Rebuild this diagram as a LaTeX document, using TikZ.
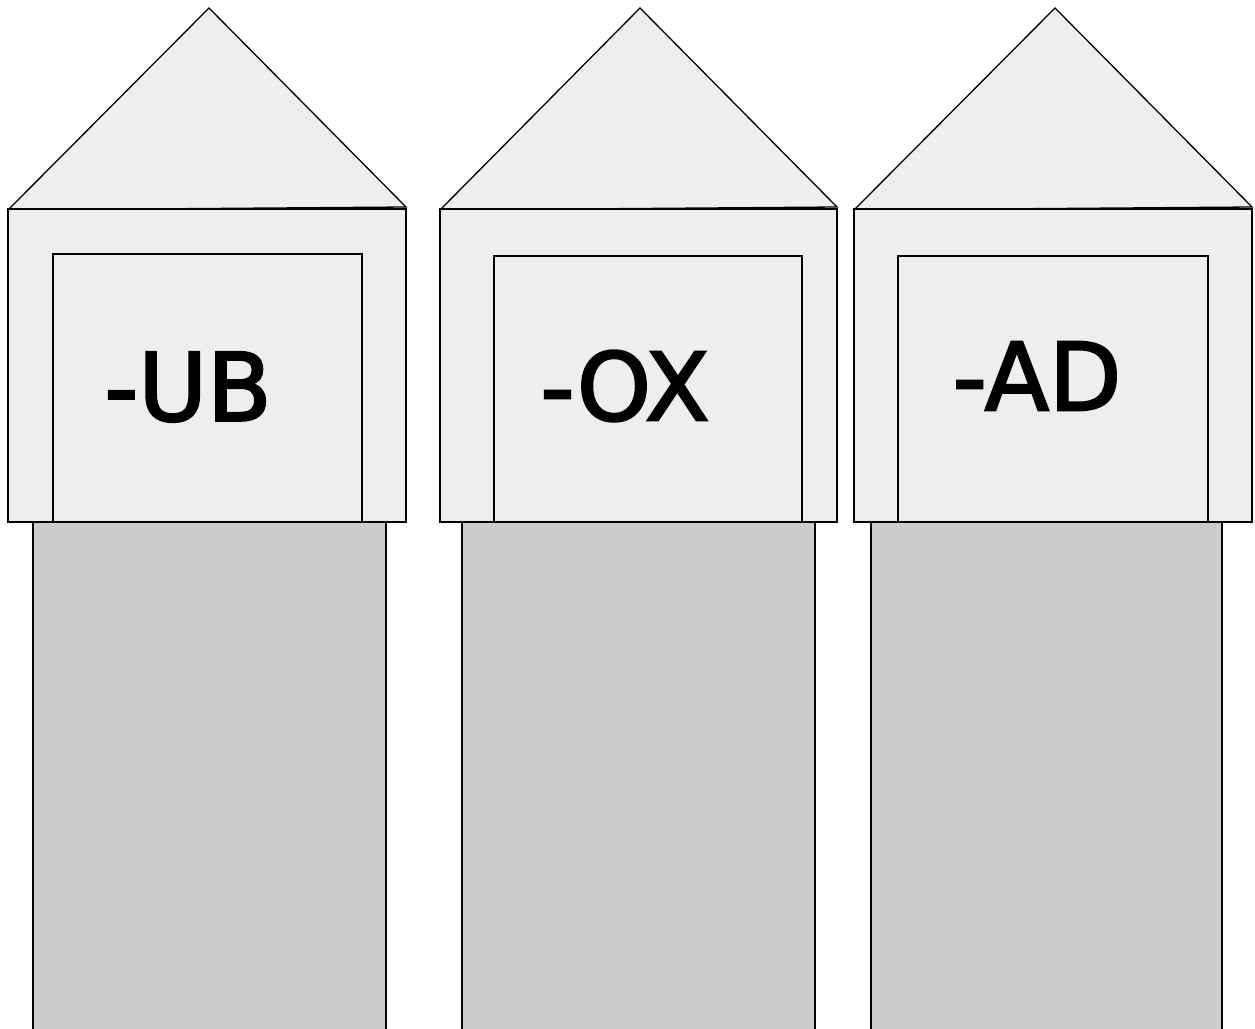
\documentclass[tikz,border=0pt]{standalone}
\usepackage{fontspec}
\setmainfont{DejaVu Sans}
\newfontfamily\labelfont[FakeBold=2.5]{DejaVu Sans}
\definecolor{boxfill}{HTML}{EEEEEE}
\definecolor{colfill}{HTML}{CCCCCC}
\tikzset{
  part/.style={draw=black, line width=1.3pt, line join=miter},
  roof/.style={part, fill=boxfill},
  frontbox/.style={part, fill=boxfill},
  doorbox/.style={part, fill=boxfill},
  column/.style={part, fill=colfill},
  label/.style={font=\labelfont\fontsize{94}{94}\selectfont, inner sep=0pt, anchor=center}
}
\begin{document}
\begin{tikzpicture}[x=1pt,y=-1pt]
\useasboundingbox (0,0) rectangle (1255,1028);
\clip (0,0) rectangle (1255,1028);
\fill[white] (0,0) rectangle (1255,1028);
% house 1
\draw[column] (33,522) rectangle (386,1040);
\draw[roof] (8,210) -- (209,8) -- (406,207) -- cycle;
\draw[frontbox] (8,209) rectangle (406,522);
\draw[doorbox] (53,254) rectangle (362,522);
\node[label] (ub) at (188,387) {-UB};
% house 2
\draw[column] (462,522) rectangle (815,1040);
\draw[roof] (440,210) -- (640,8) -- (837,207) -- cycle;
\draw[frontbox] (440,209) rectangle (837,522);
\draw[doorbox] (494,256) rectangle (802,522);
\node[label] (ox) at (625,386) {-OX};
% house 3
\draw[column] (871,522) rectangle (1222,1040);
\draw[roof] (854,210) -- (1055,8) -- (1252,207) -- cycle;
\draw[frontbox] (854,209) rectangle (1252,522);
\draw[doorbox] (898,256) rectangle (1208,522);
\node[label] (ad) at (1037,376) {-AD};
\end{tikzpicture}
\end{document}
